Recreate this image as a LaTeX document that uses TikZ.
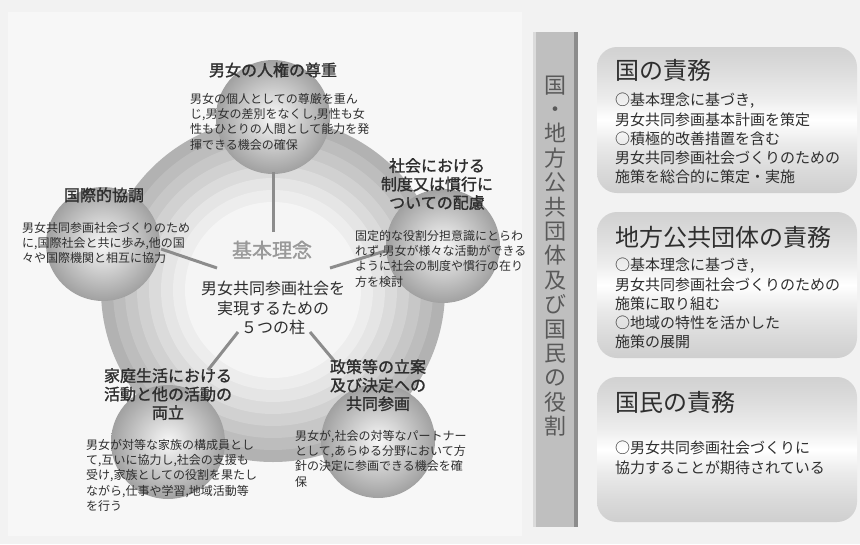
\documentclass[tikz,border=0pt]{standalone}
\usepackage{fontspec}
\setmainfont{Noto Sans CJK JP}
\newfontfamily\jpbold{Noto Sans CJK JP}[FakeBold=1.4]
\pgfdeclareverticalshading{boxband}{100bp}{color(0bp)=(black!19); color(25bp)=(black!19); color(32bp)=(black!15); color(42bp)=(black!8); color(50bp)=(white); color(57bp)=(black!7); color(66bp)=(black!13); color(75bp)=(black!18); color(100bp)=(black!18)}
\begin{document}
\begin{tikzpicture}[x=1pt,y=-1pt,
  title/.style={font=\jpbold\fontsize{16}{18.5}\selectfont, text=black!82, align=center, inner sep=0},
  body/.style={font=\fontsize{12}{15.3}\selectfont, text=black!82, align=left, inner sep=0, anchor=north west},
  sphere/.style={circle, minimum size=114pt, inner sep=0, shade, inner color=black!3, outer color=black!37},
  spoke/.style={draw=black!45, line width=3pt},
  rbox/.style={rounded corners=20pt, shading=boxband},
  rtitle/.style={font=\fontsize{24}{28}\selectfont, text=black!82, anchor=west, inner sep=0},
  rbody/.style={font=\fontsize{15}{19.2}\selectfont, text=black!82, align=left, anchor=north west, inner sep=0}]
\useasboundingbox (0,0) rectangle (860,544);
\fill[black!5] (0,0) rectangle (860,544);
\fill[black!3] (8,12) rectangle (522,536);
% concentric bands
\foreach \r/\c in {172/30,160/26,148/22,136/18,124/14,112/10,100/7,88/4}{
  \fill[black!\c] (273,290) circle (\r);
}
% spheres
\node[sphere] (sT) at (273,117) {};
\node[sphere] (sL) at (103,244) {};
\node[sphere] (sR) at (443,246) {};
\node[sphere] (sBL) at (168,442) {};
\node[sphere] (sBR) at (378,441) {};
% spokes
\coordinate (tA) at (273,232); \coordinate (tB) at (273,172);
\coordinate (lA) at (217,268); \coordinate (lB) at (161,249);
\coordinate (rA) at (330,268); \coordinate (rB) at (385,251);
\coordinate (blA) at (238,332); \coordinate (blB) at (208,370);
\coordinate (brA) at (310,332); \coordinate (brB) at (336,363);
\draw[spoke] (tA) -- (tB);
\draw[spoke] (lA) -- (lB);
\draw[spoke] (rA) -- (rB);
\draw[spoke] (blA) -- (blB);
\draw[spoke] (brA) -- (brB);
% center texts
\node[font=\jpbold\fontsize{20}{24}\selectfont, text=black!40, inner sep=0] (kihon) at (272,250) {基本理念};
\node[font=\fontsize{16}{19.5}\selectfont, align=center, text=black!82, inner sep=0, anchor=north] (ctext) at (273,281) {男女共同参画社会を\\実現するための\\５つの柱};
% top
\node[title] (tT) at (273,70) {男女の人権の尊重};
\node[body] (bT) at (190,93) {男女の個人としての尊厳を重ん\\じ,男女の差別をなくし,男性も女\\性もひとりの人間として能力を発\\揮できる機会の確保};
% left
\node[title] (tL) at (104,195) {国際的協調};
\node[body] (bL) at (22,222) {男女共同参画社会づくりのため\\に,国際社会と共に歩み,他の国\\々や国際機関と相互に協力};
% right
\node[title, anchor=north] (tR) at (437,158) {社会における\\制度又は慣行に\\ついての配慮};
\node[body] (bR) at (355,230) {固定的な役割分担意識にとらわ\\れず,男女が様々な活動ができる\\ように社会の制度や慣行の在り\\方を検討};
% bottom left
\node[title, anchor=north] (tBL) at (168,368) {家庭生活における\\活動と他の活動の\\両立};
\node[body] (bBL) at (86,439) {男女が対等な家族の構成員とし\\て,互いに協力し,社会の支援も\\受け,家族としての役割を果たし\\ながら,仕事や学習,地域活動等\\を行う};
% bottom right
\node[title, anchor=north] (tBR) at (378,359) {政策等の立案\\及び決定への\\共同参画};
\node[body] (bBR) at (295,430) {男女が,社会の対等なパートナー\\として,あらゆる分野において方\\針の決定に参画できる機会を確\\保};
% vertical bar
\fill[black!25] (533,32) rectangle (578,527);
\fill[black!14] (533,32) rectangle (536,527);
\fill[black!45] (574,32) rectangle (578,527);
\node[font=\fontsize{22}{24.4}\selectfont, text=black!65, align=center, inner sep=0] (bartext) at (555,256) {国\\・\\地\\方\\公\\共\\団\\体\\及\\び\\国\\民\\の\\役\\割};
% right boxes
\shade[rbox] (597,47) rectangle (857,193);
\shade[rbox] (597,212) rectangle (857,358);
\shade[rbox] (597,377) rectangle (857,522);
\node[rtitle] (r1t) at (615,70) {国の責務};
\node[rbody] (r1b) at (615,93) {○基本理念に基づき,\\男女共同参画基本計画を策定\\○積極的改善措置を含む\\男女共同参画社会づくりのための\\施策を総合的に策定・実施};
\node[rtitle] (r2t) at (615,237) {地方公共団体の責務};
\node[rbody] (r2b) at (615,258) {○基本理念に基づき,\\男女共同参画社会づくりのための\\施策に取り組む\\○地域の特性を活かした\\施策の展開};
\node[rtitle] (r3t) at (615,402) {国民の責務};
\node[rbody] (r3b) at (615,441) {○男女共同参画社会づくりに\\協力することが期待されている};
\end{tikzpicture}
\end{document}
